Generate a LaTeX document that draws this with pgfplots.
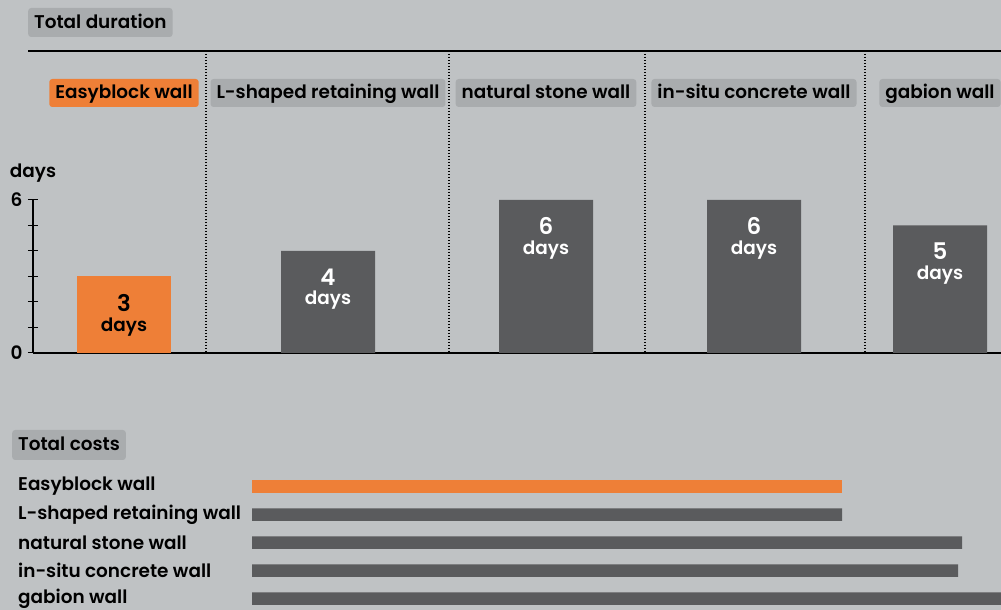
\documentclass[border=0pt]{standalone}
\usepackage{fontspec}
\setmainfont{Poppins}[UprightFont=* SemiBold, BoldFont=* SemiBold]
\usepackage{pgfplots}
\pgfplotsset{compat=1.18}
\definecolor{bg}{HTML}{BFC2C4}
\definecolor{boxg}{HTML}{A9ACAE}
\definecolor{ebo}{HTML}{EE7F37}
\definecolor{dark}{HTML}{5A5B5D}
\tikzset{lbox/.style={fill=boxg, rounded corners=3bp, inner xsep=6bp, inner ysep=0pt,
  text height=16bp, text depth=4bp, minimum height=28bp}}
\begin{document}
\begin{tikzpicture}[font=\fontsize{18.5}{21}\selectfont]
  \useasboundingbox (0bp,0bp) rectangle (1001bp,610bp);
  \fill[bg] (0bp,0bp) rectangle (1001bp,610bp);
  \clip (0bp,0bp) rectangle (1001bp,610bp);

  % section titles
  \node[lbox, minimum height=29bp, anchor=west] at (28bp,587.5bp) {Total duration};
  \node[lbox, minimum height=30bp, anchor=west] at (12bp,165bp) {Total costs};
  \draw[line width=1.3bp] (28bp,559bp) -- (1001bp,559bp);
  \foreach \xs in {206,449,645,865}
    \draw[line width=1.2bp, dash pattern=on 1.3bp off 1.7bp] (\xs bp,559bp) -- (\xs bp,257bp);

  % duration
  \begin{axis}[
    at={(33bp,257bp)}, anchor=south west,
    x=1bp, y=25.5bp,
    xmin=33, xmax=1001, ymin=0, ymax=6,
    axis x line=bottom, axis y line=left,
    axis line style={line width=1.3bp, -},
    clip=false,
    /pgf/number format/assume math mode=true,
    ytick={0,...,6}, yticklabels={0,,,,,,6},
    ytick style={line width=1bp, black},
    yticklabel style={xshift=-2bp},
    tick align=center, major tick length=10bp,
    xtick={328,546,754,940},
    xticklabels={L-shaped retaining wall, natural stone wall, in-situ concrete wall, gabion wall},
    extra x ticks={124}, extra x tick labels={Easyblock wall},
    extra x tick style={xticklabel style={fill=ebo}},
    xtick style={draw=none},
    xticklabel style={lbox, anchor=center, yshift=265bp},
    every axis y label/.style={at={(rel axis cs:0,1)}, anchor=center, yshift=27bp},
    ylabel={days},
    every node near coord/.append style={align=center, anchor=north, yshift=-14bp},
  ]
    \addplot[ybar, bar width=94, bar shift=0pt, fill=ebo, draw=none,
      nodes near coords={{\fontsize{23}{24}\selectfont\pgfmathprintnumber{\pgfplotspointmeta}}\\[-1bp]days},
      nodes near coords style={text=black}]
      coordinates {(124,3)};
    \addplot[ybar, bar width=94, bar shift=0pt, fill=dark, draw=none,
      nodes near coords={{\fontsize{23}{24}\selectfont\pgfmathprintnumber{\pgfplotspointmeta}}\\[-1bp]days},
      nodes near coords style={text=white}]
      coordinates {(328,4) (546,6) (754,6) (940,5)};
  \end{axis}

  % costs
  \begin{axis}[
    at={(252bp,137.5bp)}, anchor=north west,
    x=1bp, y=28bp, y dir=reverse,
    xmin=0, xmax=749, ymin=-0.5, ymax=4.5,
    axis line style={draw=none},
    xtick=\empty, ytick={0,...,4},
    yticklabels={Easyblock wall, L-shaped retaining wall, natural stone wall, in-situ concrete wall, gabion wall},
    major tick length=0pt,
    yticklabel style={anchor=west, inner xsep=0pt, xshift=-234bp},
  ]
    \addplot[xbar, bar width=12.5bp, bar shift=0pt, fill=ebo, draw=none] coordinates {(590,0)};
    \addplot[xbar, bar width=12.5bp, bar shift=0pt, fill=dark, draw=none]
      coordinates {(590,1) (710,2) (706,3) (760,4)};
  \end{axis}
\end{tikzpicture}
\end{document}
